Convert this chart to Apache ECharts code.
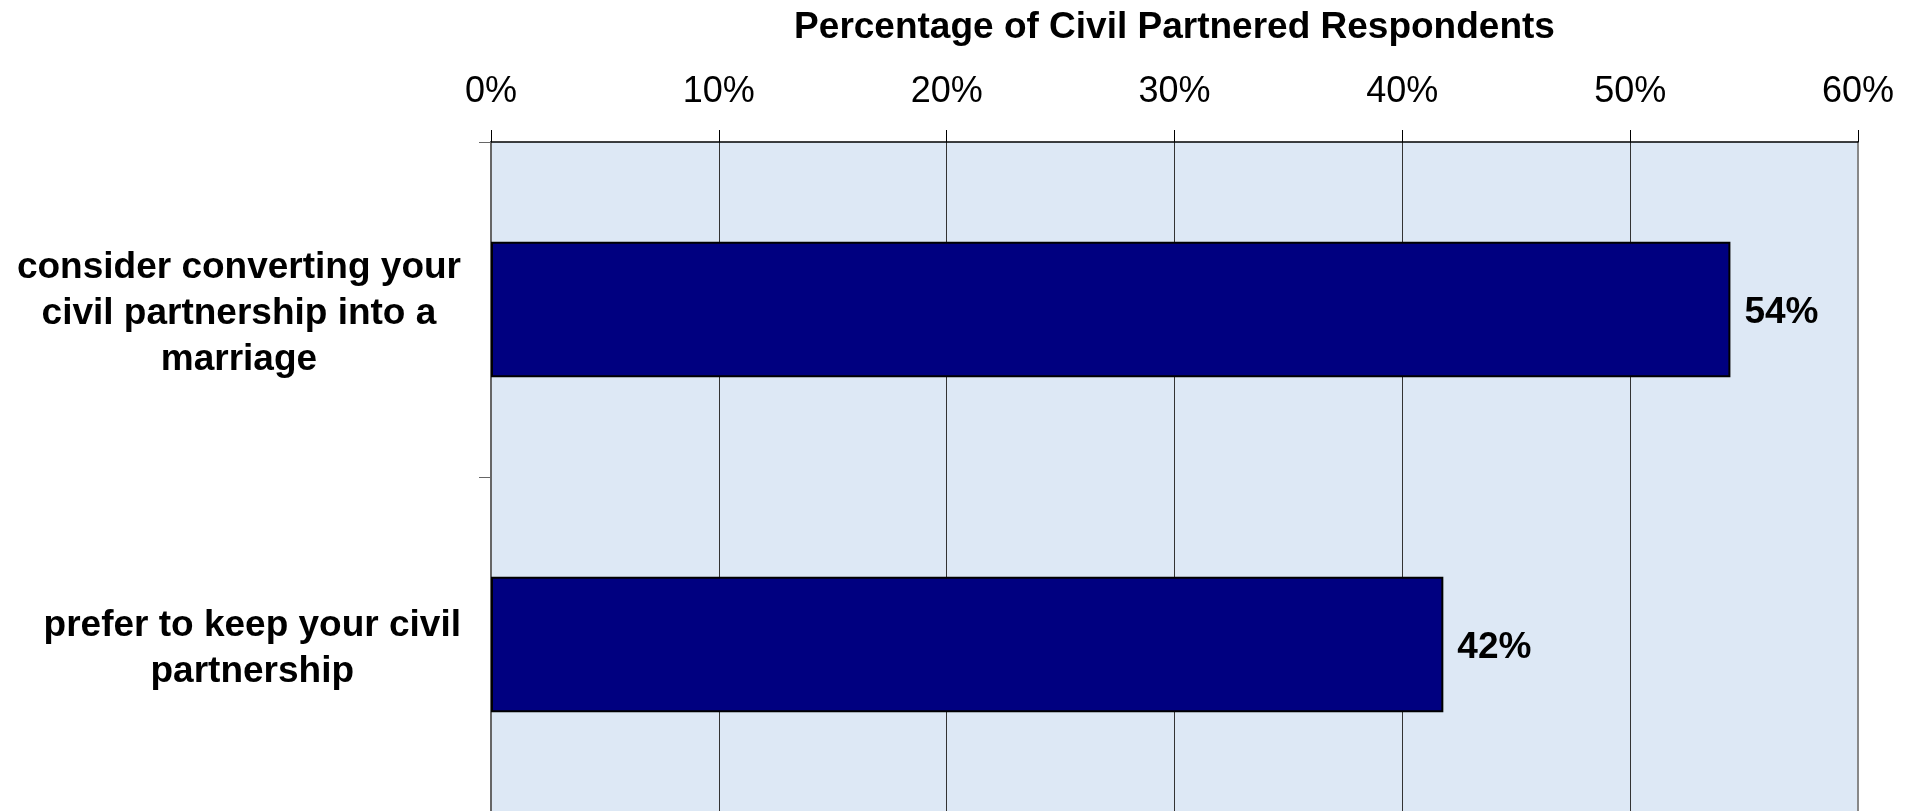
<!DOCTYPE html>
<html lang="en">
  <head>
    <meta charset="UTF-8" />
    <title>civil partnership</title>
    <script src="https://cdn.jsdelivr.net/npm/echarts@6/dist/echarts.min.js"></script>
    <style>
      * {
        margin: 0;
        padding: 0;
      }
      html,
      body {
        background: #fff;
      }
    </style>
  </head>
  <body>
    <div id="charts" style="width: 1917px; height: 811px"></div>
    <script>
      var categories = [
        "consider converting your\ncivil partnership into a\nmarriage",
        "prefer to keep your civil\npartnership",
      ];
      var percentValues = [54.4, 41.8];
      var axisTitle = "Percentage of Civil Partnered Respondents";

      var font = "Liberation Sans, Arial, sans-serif";
      var myEcharts = echarts.init(document.getElementById("charts"));
      var options = {
        animation: false,
        textStyle: { fontFamily: font },
        grid: {
          left: 491,
          right: 59,
          top: 142,
          height: 670,
          show: true,
          backgroundColor: "#dde8f5",
          borderWidth: 0,
          outerBoundsMode: "none",
          containLabel: false,
        },
        xAxis: {
          type: "value",
          position: "top",
          min: 0,
          max: 60,
          interval: 10,
          name: axisTitle,
          nameLocation: "middle",
          nameGap: 96,
          nameMoveOverlap: false,
          nameTextStyle: {
            fontSize: 37,
            fontWeight: "bold",
            color: "#000",
            fontFamily: font,
          },
          axisLine: { show: true, lineStyle: { color: "#000", width: 1.5 } },
          axisTick: { show: true, length: 12, lineStyle: { color: "#000" } },
          axisLabel: {
            formatter: "{value}%",
            fontSize: 36,
            color: "#000",
            margin: 32,
            fontFamily: font,
          },
          splitLine: { show: true, lineStyle: { color: "#333", width: 1 } },
        },
        yAxis: [
          {
            type: "category",
            inverse: true,
            data: categories,
            axisLine: { show: true, lineStyle: { color: "#666", width: 2 } },
            axisTick: { show: true, length: 12, lineStyle: { color: "#666" } },
            axisLabel: {
              margin: 30,
              align: "right",
              padding: [9, 0, 0, 0],
              formatter: function (v) {
                return v
                  .split("\n")
                  .map(function (l) {
                    return "{c|" + l + "}";
                  })
                  .join("\n");
              },
              rich: {
                c: {
                  align: "center",
                  fontSize: 37,
                  fontWeight: "bold",
                  color: "#000",
                  lineHeight: 46,
                  fontFamily: font,
                },
              },
            },
          },
          {
            type: "category",
            inverse: true,
            position: "right",
            data: categories,
            axisLine: { show: true, lineStyle: { color: "#888", width: 2 } },
            axisTick: { show: false },
            axisLabel: { show: false },
          },
        ],
        series: [
          {
            type: "bar",
            data: percentValues,
            barWidth: "40.5%",
            itemStyle: {
              color: "#000080",
              borderColor: "#000",
              borderWidth: 2,
            },
            label: {
              show: true,
              position: "right",
              distance: 14,
              offset: [0, 3],
              fontSize: 37,
              fontWeight: "bold",
              color: "#000",
              fontFamily: font,
              formatter: function (p) {
                return Math.round(p.value) + "%";
              },
            },
          },
        ],
      };
      myEcharts.setOption(options);
    </script>
  </body>
</html>
